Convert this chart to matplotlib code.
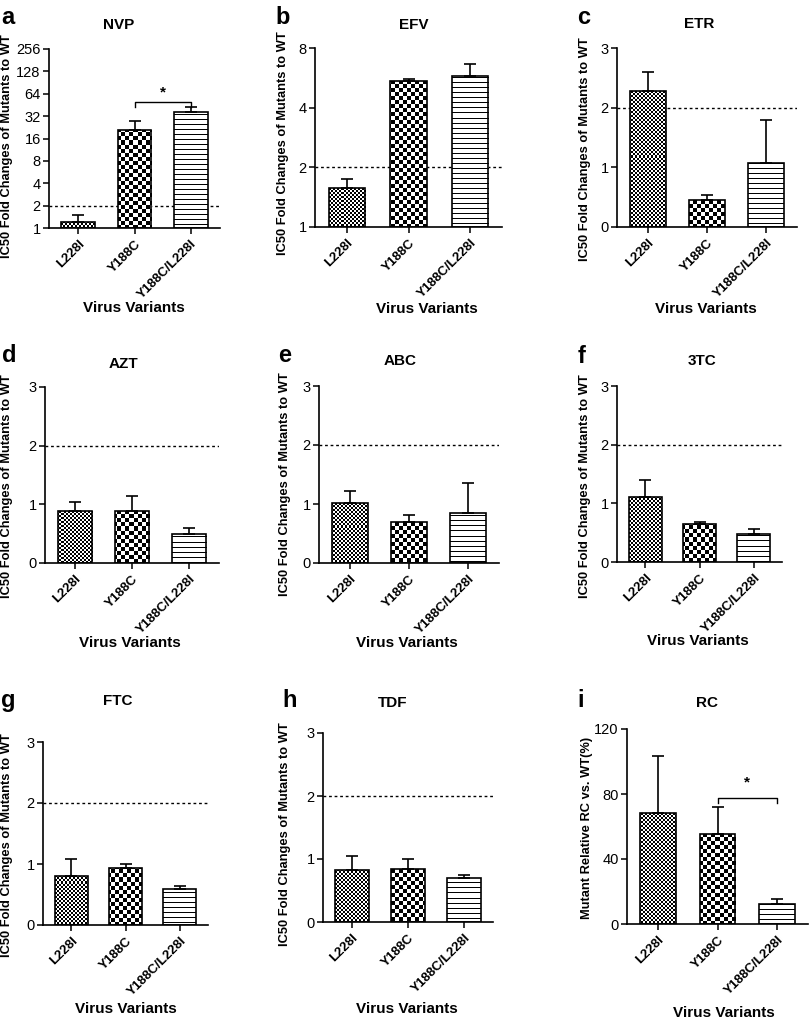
import numpy as np
import matplotlib
matplotlib.use('Agg')
import matplotlib.pyplot as plt
from matplotlib.image import AxesImage
from matplotlib.ticker import FixedLocator, FixedFormatter, NullLocator

plt.rcParams['font.family'] = ['Liberation Sans', 'DejaVu Sans']

# ---- data ----
variants = ['L228I', 'Y188C', 'Y188C/L228I']
textures = ['fine', 'coarse', 'stripes']

nvp_mean = [1.19, 21.1, 36.2]
nvp_sem = [0.29, 6.3, 6.1]
efv_mean = [1.57, 5.43, 5.80]
efv_sem = [0.18, 0.15, 0.87]
etr_mean = [2.28, 0.46, 1.07]
etr_sem = [0.32, 0.07, 0.73]
azt_mean = [0.88, 0.89, 0.50]
azt_sem = [0.16, 0.26, 0.09]
abc_mean = [1.02, 0.69, 0.85]
abc_sem = [0.20, 0.12, 0.50]
tc3_mean = [1.10, 0.65, 0.48]
tc3_sem = [0.29, 0.025, 0.08]
ftc_mean = [0.81, 0.94, 0.59]
ftc_sem = [0.27, 0.06, 0.05]
tdf_mean = [0.82, 0.84, 0.70]
tdf_sem = [0.22, 0.16, 0.04]
rc_mean = [68.2, 55.3, 12.3]
rc_sem = [35.0, 16.8, 2.9]

log_ticks_nvp = [1, 2, 4, 8, 16, 32, 64, 128, 256]
log_ticks_efv = [1, 2, 4, 8]
lin_ticks = [0, 1, 2, 3]
rc_ticks = [0, 40, 80, 120]
cutoff = 2  # two-fold resistance cut-off

ic50_label = 'IC50 Fold Changes of Mutants to WT'
rc_label = 'Mutant Relative RC vs. WT(%)'

# letter, title, mean, sem, scale, ticks, ylabel, cutoff line, bracket (y_top, y_low, y_star)
panels = [
    ('a', 'NVP', nvp_mean, nvp_sem, 'log', log_ticks_nvp, ic50_label, cutoff, (49.5, 42.5, 54)),
    ('b', 'EFV', efv_mean, efv_sem, 'log', log_ticks_efv, ic50_label, cutoff, None),
    ('c', 'ETR', etr_mean, etr_sem, 'lin', lin_ticks, ic50_label, cutoff, None),
    ('d', 'AZT', azt_mean, azt_sem, 'lin', lin_ticks, ic50_label, cutoff, None),
    ('e', 'ABC', abc_mean, abc_sem, 'lin', lin_ticks, ic50_label, cutoff, None),
    ('f', '3TC', tc3_mean, tc3_sem, 'lin', lin_ticks, ic50_label, cutoff, None),
    ('g', 'FTC', ftc_mean, ftc_sem, 'lin', lin_ticks, ic50_label, cutoff, None),
    ('h', 'TDF', tdf_mean, tdf_sem, 'lin', lin_ticks, ic50_label, cutoff, None),
    ('i', 'RC', rc_mean, rc_sem, 'lin', rc_ticks, rc_label, None, (77.6, 74.3, 83)),
]

# ---- layout in pixels ----
W, H = 810, 1019
# axes box: left, top, right, bottom
boxes = [(49, 49, 220, 228), (315, 48, 502, 227), (617, 48, 797, 227),
         (45, 387, 219, 563), (319, 386, 499, 563), (617, 386, 782, 562),
         (43, 742, 208, 925), (323, 733, 493, 922), (627, 729, 808, 924)]
letter_pos = [(1, 24), (275, 24), (577, 24), (2, 362), (278, 362), (578, 363),
              (1, 707), (282, 707), (577, 707)]
title_pos = [(119, 29), (414, 29), (699, 28), (123, 368), (400, 365), (702, 365),
             (118, 705), (393, 707), (707, 707)]
xlab_pos = [(134, 312), (427, 313), (706, 313), (130, 647), (407, 647), (698, 645),
            (126, 1013), (407, 1013), (724, 1017)]
ylab_pos = [(7, 146), (283, 143), (585, 149), (7, 486), (285, 484), (585, 486),
            (7, 845), (285, 834), (587, 828)]


def texture(kind, nx, ny):
    yy, xx = np.mgrid[0:ny, 0:nx]
    if kind == 'fine':
        return ((xx // 2 + yy // 2) % 2).astype(float)
    if kind == 'coarse':
        return ((xx // 4 + yy // 4) % 2).astype(float)
    return (yy % 5 == 0).astype(float)


def fill_bar(ax, bar, kind):
    bb = ax.get_window_extent()
    nx, ny = int(round(bb.width)), int(round(bb.height))
    im = AxesImage(ax, cmap='gray_r', interpolation='nearest',
                   extent=(0, 1, 0, 1), transform=ax.transAxes)
    im.set_data(texture(kind, nx, ny))
    im.set_clim(0, 1)
    im.set_clip_path(bar)
    im.set_zorder(2)
    ax.add_image(im)


fig = plt.figure(figsize=(W / 100, H / 100), dpi=100)

for (letter, title, mean, sem, scale, ticks, ylabel, cut, bracket), box, lp, tp, xp, yp in zip(
        panels, boxes, letter_pos, title_pos, xlab_pos, ylab_pos):
    l, t, r, b = box
    ax = fig.add_axes([l / W, 1 - b / H, (r - l) / W, (b - t) / H])
    x = np.arange(len(variants))
    mean = np.array(mean)
    sem = np.array(sem)

    if scale == 'log':
        ax.set_yscale('log', base=2)
        base = ticks[0]
    else:
        base = 0
    bars = ax.bar(x, mean - base, bottom=base, width=0.6, facecolor='none',
                  edgecolor='black', linewidth=1.2, zorder=3)
    for bar, kind in zip(bars, textures):
        fill_bar(ax, bar, kind)
    ax.errorbar(x, mean, yerr=[np.zeros_like(sem), sem], fmt='none',
                ecolor='black', elinewidth=1.2, capsize=4.5, capthick=1.2, zorder=2.5)

    if cut is not None:
        ax.axhline(cut, color='black', lw=1, ls=(0, (2, 2)), zorder=1)

    ax.set_xlim(-0.52, 2.52)
    ax.set_ylim(ticks[0], ticks[-1])
    ax.yaxis.set_major_locator(FixedLocator(ticks))
    ax.yaxis.set_major_formatter(FixedFormatter([str(v) for v in ticks]))
    ax.yaxis.set_minor_locator(NullLocator())
    ax.set_xticks(x)
    ax.set_xticklabels(variants, rotation=45, ha='right', rotation_mode='anchor',
                       fontweight='bold', fontsize=9.5)
    ax.tick_params(axis='y', labelsize=10.5, length=4, width=1.1, direction='out', pad=2)
    ax.tick_params(axis='x', length=4, width=1.1, direction='out', pad=3)
    for s in ['top', 'right']:
        ax.spines[s].set_visible(False)
    for s in ['left', 'bottom']:
        ax.spines[s].set_linewidth(1.2)

    if bracket is not None:
        hi, lo, ys = bracket
        ax.plot([1, 1, 2, 2], [lo, hi, hi, lo], color='black', lw=1, zorder=4)
        ax.text(1.5, ys, '*', ha='center', va='bottom', fontsize=11, fontweight='bold')

    fig.text(lp[0] / W, 1 - lp[1] / H, letter, fontsize=17, fontweight='bold',
             ha='left', va='baseline')
    fig.text(tp[0] / W, 1 - tp[1] / H, title, fontsize=11, fontweight='bold',
             ha='center', va='baseline')
    fig.text(xp[0] / W, 1 - xp[1] / H, 'Virus Variants', fontsize=11, fontweight='bold',
             ha='center', va='baseline')
    fig.text(yp[0] / W, 1 - yp[1] / H, ylabel, fontsize=9.3, fontweight='bold',
             rotation=90, ha='center', va='center')

fig.savefig('out.png', dpi=100)
